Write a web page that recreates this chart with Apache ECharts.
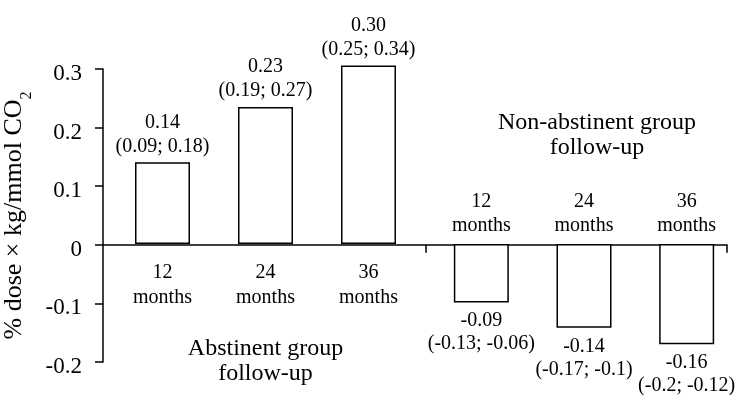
<!DOCTYPE html>
<html>
<head>
<meta charset="utf-8">
<script src="https://cdn.jsdelivr.net/npm/echarts@6/dist/echarts.min.js"></script>
<style>html,body{margin:0;padding:0;background:#fff}#c{width:743px;height:395px}</style>
</head>
<body>
<div id="c"></div>
<script>
// ---- data ----
var abstCategories = ['12\nmonths', '24\nmonths', '36\nmonths'];
var abstValues = [0.140, 0.235, 0.306];
var abstMeanLabels = ['0.14', '0.23', '0.30'];
var abstCILabels = ['(0.09; 0.18)', '(0.19; 0.27)', '(0.25; 0.34)'];

var nonAbstCategories = ['12\nmonths', '24\nmonths', '36\nmonths'];
var nonAbstValues = [-0.099, -0.142, -0.170];
var nonAbstMeanLabels = ['-0.09', '-0.14', '-0.16'];
var nonAbstCILabels = ['(-0.13; -0.06)', '(-0.17; -0.1)', '(-0.2; -0.12)'];

var yTicks = { min: -0.2, max: 0.3, interval: 0.1 };
var yTitle = '% dose \u00d7 kg/mmol CO{sub|2}';
var abstTitle = 'Abstinent group\nfollow-up';
var nonAbstTitle = 'Non-abstinent group\nfollow-up';

// ---- chart ----
var FONT = '"Liberation Serif", "Times New Roman", serif';
var LW = 1.5;
var chart = echarts.init(document.getElementById('c'), null, { renderer: 'canvas' });

function yLabelFmt(v) {
  var r = Math.round(v * 10) / 10;
  if (r === 0) return '0';
  return r.toFixed(1);
}

// The abstinent grid spans 0..max, the non-abstinent grid spans min..0,
// so the category axes of both sit on the zero line.
var option = {
  animation: false,
  backgroundColor: '#fff',
  grid: [
    { left: 103, right: 16, top: 69, bottom: 33, outerBoundsMode: 'none', containLabel: false },   // frame
    { left: 111, right: 323, top: 69, bottom: 151, outerBoundsMode: 'none', containLabel: false }, // abstinent (0..0.3)
    { left: 430, right: 5, top: 244, bottom: 33, outerBoundsMode: 'none', containLabel: false }    // non-abstinent (-0.2..0)
  ],
  xAxis: [
    { // zero line with separator ticks (outside part)
      gridIndex: 0, type: 'value', min: 0, max: 624,
      axisLine: { show: true, onZero: true, onZeroAxisIndex: 0, lineStyle: { color: '#000', width: LW } },
      axisTick: { show: true, inside: false, length: 8, customValues: [323, 624], lineStyle: { color: '#000', width: LW } },
      axisLabel: { show: false }, splitLine: { show: false }
    },
    { // inside part of separator ticks
      gridIndex: 0, type: 'value', min: 0, max: 624,
      axisLine: { show: false, onZero: true, onZeroAxisIndex: 0 },
      axisTick: { show: true, inside: true, length: 7, customValues: [323, 624], lineStyle: { color: '#000', width: LW } },
      axisLabel: { show: false }, splitLine: { show: false }
    },
    {
      gridIndex: 1, type: 'category', data: abstCategories, position: 'bottom',
      axisLine: { show: false, onZero: false },
      axisTick: { show: false },
      axisLabel: { show: true, margin: 16, fontFamily: FONT, fontSize: 20, color: '#000', lineHeight: 25 },
      name: abstTitle, nameLocation: 'middle', nameGap: 92,
      nameTextStyle: { fontFamily: FONT, fontSize: 24, color: '#000', lineHeight: 25 }
    },
    {
      gridIndex: 2, type: 'category', data: nonAbstCategories, position: 'top',
      axisLine: { show: false, onZero: false },
      axisTick: { show: false },
      axisLabel: { show: true, margin: 6, fontFamily: FONT, fontSize: 20, color: '#000', lineHeight: 24 },
      name: nonAbstTitle, nameLocation: 'middle', nameGap: 84,
      nameTextStyle: { fontFamily: FONT, fontSize: 24, color: '#000', lineHeight: 25, padding: [0, 0, 0, 26] }
    }
  ],
  yAxis: [
    {
      gridIndex: 0, type: 'value', min: yTicks.min, max: yTicks.max, interval: yTicks.interval,
      axisLine: { show: true, lineStyle: { color: '#000', width: LW } },
      axisTick: { show: true, inside: false, length: 7, lineStyle: { color: '#000', width: LW } },
      axisLabel: { show: true, margin: 21, fontFamily: FONT, fontSize: 23, color: '#000', formatter: yLabelFmt, verticalAlign: 'top', lineHeight: 10 },
      splitLine: { show: false },
      name: yTitle, nameLocation: 'middle', nameRotate: 90, nameGap: 70,
      nameTextStyle: {
        fontFamily: FONT, fontSize: 26, color: '#000',
        rich: { sub: { fontFamily: FONT, fontSize: 16, color: '#000', verticalAlign: 'bottom', padding: [0, 0, -8, 0] } }
      }
    },
    {
      gridIndex: 0, type: 'value', min: yTicks.min, max: yTicks.max, interval: yTicks.interval,
      axisLine: { show: false },
      axisTick: { show: true, inside: true, length: 8, lineStyle: { color: '#000', width: LW } },
      axisLabel: { show: false }, splitLine: { show: false }
    },
    { gridIndex: 1, type: 'value', min: 0, max: yTicks.max, interval: yTicks.interval, show: false },
    { gridIndex: 2, type: 'value', min: yTicks.min, max: 0, interval: yTicks.interval, show: false }
  ],
  series: [
    {
      type: 'bar', xAxisIndex: 2, yAxisIndex: 2, data: abstValues, barWidth: 55, clip: false,
      itemStyle: { color: '#fff', borderColor: '#000', borderWidth: LW },
      label: {
        show: true, position: 'top', distance: 4, fontFamily: FONT, fontSize: 20, color: '#000', lineHeight: 24,
        formatter: function (p) { return abstMeanLabels[p.dataIndex] + '\n' + abstCILabels[p.dataIndex]; }
      }
    },
    {
      type: 'bar', xAxisIndex: 3, yAxisIndex: 3, data: nonAbstValues, barWidth: 55, clip: false,
      itemStyle: { color: '#fff', borderColor: '#000', borderWidth: LW },
      label: {
        show: true, position: 'bottom', distance: 7, fontFamily: FONT, fontSize: 20, color: '#000', lineHeight: 23,
        formatter: function (p) { return nonAbstMeanLabels[p.dataIndex] + '\n' + nonAbstCILabels[p.dataIndex]; }
      }
    }
  ]
};
chart.setOption(option);
</script>
</body>
</html>
